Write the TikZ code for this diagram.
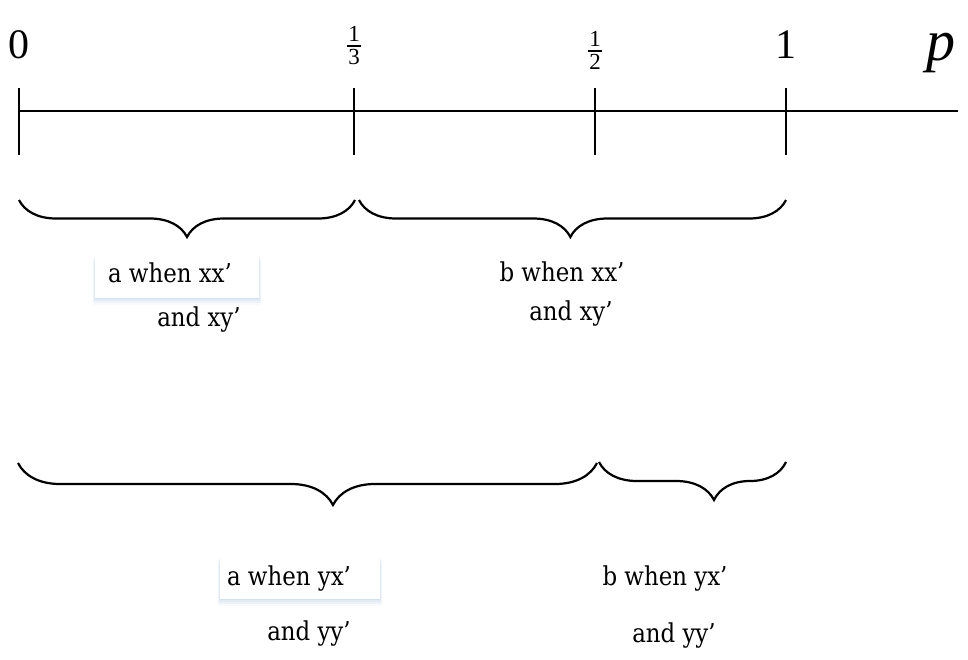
\documentclass[tikz,border=0pt]{standalone}
\usepackage{fontspec}
\setmainfont{Liberation Serif}
\newfontfamily\lblfont[FakeStretch=0.88]{DejaVu Serif}
\usetikzlibrary{decorations.pathreplacing,shadows}
\definecolor{shadowblue}{RGB}{150,185,225}
\begin{document}
\begin{tikzpicture}[x=1pt,y=-1pt,
  axisline/.style={line width=2.4pt},
  tickline/.style={line width=1.5pt},
  fracbar/.style={line width=1.4pt},
  bracepath/.style 2 args={line width=2.2pt, decorate,
    decoration={brace, mirror, amplitude=#1, aspect=#2}},
  numlbl/.style={inner sep=0pt, font=\fontsize{42}{42}\selectfont},
  fraclbl/.style={inner sep=0pt, font=\fontsize{23}{23}\selectfont},
  varlbl/.style={inner sep=0pt, font=\fontsize{58}{58}\selectfont\itshape},
  txt/.style={inner sep=0pt, anchor=base, font=\lblfont\fontsize{26}{26}\selectfont},
  boxed/.style={fill=white, inner sep=0pt, minimum width=#1, minimum height=43pt,
    drop shadow={shadow xshift=0pt, shadow yshift=-7pt, shadow scale=1.03, opacity=0.07, fill=shadowblue},
    drop shadow={shadow xshift=0pt, shadow yshift=-5pt, shadow scale=1.02, opacity=0.10, fill=shadowblue},
    drop shadow={shadow xshift=0pt, shadow yshift=-3pt, shadow scale=1.01, opacity=0.15, fill=shadowblue},
    drop shadow={shadow xshift=0pt, shadow yshift=-1.5pt, opacity=0.2, fill=shadowblue}}
]
\useasboundingbox (0,0) rectangle (968,659);

% axis
\coordinate (axL) at (19,111);
\coordinate (axR) at (958,111);
\draw[axisline] (axL) -- (axR);

% ticks
\coordinate (t0a) at (19,88);   \coordinate (t0b) at (19,155);
\coordinate (t1a) at (354,88);  \coordinate (t1b) at (354,155);
\coordinate (t2a) at (595,88);  \coordinate (t2b) at (595,155);
\coordinate (t3a) at (786,88);  \coordinate (t3b) at (786,155);
\draw[tickline] (t0a) -- (t0b);
\draw[tickline] (t1a) -- (t1b);
\draw[tickline] (t2a) -- (t2b);
\draw[tickline] (t3a) -- (t3b);

% axis labels
\node[numlbl] (l0) at (19,45) {0};
\node[numlbl] (l1) at (786,45) {1};
\node[varlbl] (lp) at (941,53) {p};

% fraction 1/3
\node[fraclbl] (n13) at (354,34) {1};
\coordinate (f13a) at (347,46); \coordinate (f13b) at (361,46);
\draw[fracbar] (f13a) -- (f13b);
\node[fraclbl] (d13) at (354,57) {3};

% fraction 1/2
\node[fraclbl] (n12) at (595,39) {1};
\coordinate (f12a) at (588,51); \coordinate (f12b) at (602,51);
\draw[fracbar] (f12a) -- (f12b);
\node[fraclbl] (d12) at (595,62) {2};

% braces
\coordinate (b1a) at (19,200);  \coordinate (b1b) at (355,200);
\coordinate (b2a) at (359,200); \coordinate (b2b) at (786,200);
\coordinate (b3a) at (18,463);  \coordinate (b3b) at (597,463);
\coordinate (b4a) at (599,462); \coordinate (b4b) at (786,462);
\draw[bracepath={37pt}{0.5}] (b1a) -- (b1b);
\draw[bracepath={37pt}{0.495}] (b2a) -- (b2b);
\draw[bracepath={42pt}{0.544}] (b3a) -- (b3b);
\draw[bracepath={38pt}{0.615}] (b4a) -- (b4b);

% boxes
\node[boxed=164pt] (box1) at (177,276) {};
\node[boxed=160pt] (box2) at (300,577) {};

% texts
\node[txt] (ta1) at (170,282) {a when xx’};
\node[txt] (ta2) at (199,326) {and xy’};
\node[txt] (tb1) at (562,281) {b when xx’};
\node[txt] (tb2) at (571,320) {and xy’};
\node[txt] (tc1) at (289,585) {a when yx’};
\node[txt] (tc2) at (309,640) {and yy’};
\node[txt] (td1) at (665,585) {b when yx’};
\node[txt] (td2) at (674,642) {and yy’};
\end{tikzpicture}
\end{document}
